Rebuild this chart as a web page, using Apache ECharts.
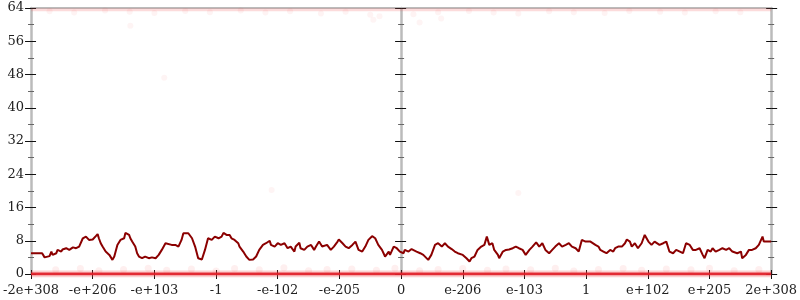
<!DOCTYPE html>
<html><head><meta charset="utf-8">
<script src="https://cdn.jsdelivr.net/npm/echarts@6/dist/echarts.min.js"></script>
<style>html,body{margin:0;padding:0;background:#fff}#c{width:800px;height:300px}</style>
</head><body><div id="c"></div>
<script>
// ---- data ----
const xTickValues = [-6,-5,-4,-3,-2,-1,0,1,2,3,4,5,6];
const xTickLabels = ['-2e+308','-e+206','-e+103','-1','-e-102','-e-205','0','e-206','e-103','1','e+102','e+205','2e+308'];
const yMin = 0, yMax = 64, yStep = 8;
const lineX = [
-6.00,-5.82,-5.78,-5.75,-5.70,-5.67,-5.65,-5.59,-5.57,-5.51,-5.49,-5.43,-5.38,-5.32,-5.27,-5.22,-5.16,-5.11,-5.06,-5.00,
-4.95,-4.92,-4.90,-4.87,-4.84,-4.79,-4.73,-4.68,-4.65,-4.60,-4.55,-4.49,-4.47,-4.41,-4.39,-4.36,-4.31,-4.28,-4.25,-4.20,
-4.15,-4.09,-4.04,-3.98,-3.93,-3.88,-3.82,-3.80,-3.72,-3.66,-3.61,-3.56,-3.53,-3.45,-3.39,-3.34,-3.29,-3.23,
-3.18,-3.13,-3.07,-3.02,-2.96,-2.91,-2.88,-2.83,-2.78,-2.75,-2.70,-2.64,-2.62,-2.56,-2.51,-2.46,-2.43,-2.40,-2.35,-2.30,
-2.24,-2.19,-2.13,-2.11,-2.05,-2.00,-1.95,-1.89,-1.84,-1.79,-1.73,-1.71,-1.65,-1.63,-1.57,-1.52,-1.46,-1.41,-1.38,-1.33,
-1.28,-1.25,-1.20,-1.14,-1.09,-1.03,-1.01,-0.95,-0.90,-0.85,-0.79,-0.74,-0.69,-0.63,-0.58,-0.53,-0.47,-0.42,-0.37,-0.31,
-0.26,-0.20,-0.18,-0.12,-0.10,-0.07,-0.02,
0.04,0.06,0.12,0.17,0.20,0.25,0.31,0.36,0.44,0.49,0.55,0.60,0.66,0.71,0.76,0.82,0.87,0.92,0.95,1.00,
1.06,1.11,1.14,1.19,1.24,1.30,1.35,1.39,1.43,1.48,1.51,1.57,1.59,1.65,1.70,1.75,1.81,1.86,1.91,1.97,
2.02,2.08,2.13,2.19,2.24,2.29,2.34,2.40,2.45,2.50,2.56,2.61,2.67,2.72,2.77,2.83,2.88,2.93,2.99,3.07,3.15,3.20,
3.23,3.28,3.33,3.39,3.44,3.47,3.52,3.58,3.63,3.66,3.71,3.74,3.79,3.84,3.90,3.95,3.98,4.01,4.06,4.11,
4.14,4.19,4.25,4.30,4.35,4.41,4.46,4.52,4.57,4.62,4.68,4.73,4.78,4.84,4.89,4.92,4.97,5.02,5.05,5.10,
5.16,5.21,5.27,5.32,5.37,5.45,5.51,5.53,5.59,5.64,5.69,5.75,5.80,5.86,5.88,5.94,6.00];
const lineY = [
5.0,5.0,4.0,4.3,4.3,5.4,4.6,5.0,5.8,5.4,5.9,6.2,5.8,6.4,6.2,6.6,8.6,9.0,8.2,8.3,
9.1,9.6,8.6,7.4,6.6,5.4,4.6,3.4,4.2,7.0,8.2,8.6,9.9,9.4,8.6,7.8,6.6,5.0,4.2,3.8,
4.2,3.8,4.0,3.8,4.6,5.8,7.4,7.8,7.0,7.0,6.6,8.2,9.8,9.8,8.6,6.6,3.8,3.5,
5.8,8.6,8.2,9.0,8.6,9.0,9.9,9.4,9.4,8.6,8.2,7.4,6.6,5.4,4.2,3.4,3.0,3.5,4.2,5.8,
7.0,7.4,8.0,7.0,6.6,7.4,7.0,7.4,6.2,6.6,5.4,6.6,7.5,6.2,5.8,6.6,7.0,5.8,6.6,7.8,
6.6,6.2,7.0,5.8,6.6,7.8,8.3,7.4,6.6,6.2,7.0,7.8,5.8,5.4,6.6,8.2,9.1,8.6,7.0,5.8,
4.2,5.4,4.6,6.6,7.0,6.2,5.4,
5.0,5.8,5.4,6.0,6.2,5.4,5.0,4.6,3.4,4.6,7.0,7.4,6.6,7.4,6.6,6.0,5.4,5.0,5.4,4.6,
3.8,3.0,3.8,4.2,5.8,6.6,7.0,9.0,7.0,7.4,5.8,4.6,3.8,5.4,5.8,5.9,6.2,6.6,6.2,5.8,
4.6,5.8,6.6,7.6,6.6,7.4,5.8,5.0,5.8,6.6,7.4,6.6,7.0,7.4,6.6,6.2,5.4,8.2,7.8,7.8,7.0,6.6,
5.8,5.4,5.0,5.8,5.4,6.2,6.6,6.6,7.4,8.3,7.8,6.6,7.4,6.2,7.4,9.4,8.6,7.8,7.0,7.8,
7.4,7.0,7.4,7.8,5.4,5.0,5.8,5.4,5.0,7.4,7.0,5.8,5.8,6.2,4.6,3.8,5.8,5.4,6.2,5.4,
5.8,6.2,5.8,6.2,5.4,5.0,5.4,3.8,4.6,5.8,5.8,6.2,7.0,9.0,7.8,7.8,7.8];
const bandX = [-6, 6];
const bottomBand = [0, 0];
const topBand = [63.6, 63.6];
const bottomDotsX = [-5.6,-5.2,-4.9,-4.5,-4.1,-3.8,-3.4,-3.0,-2.7,-2.3,-1.9,-1.5,-1.2,-0.8,-0.4,-0.1,0.3,0.6,1.0,1.4,1.7,2.1,2.5,2.8,3.2,3.6,3.9,4.3,4.7,5.0,5.4,5.8];
const bottomDotsY = [1.0,1.3,0.8,1.1,1.4,0.9,1.2,0.7,1.3,1.0,1.5,0.8,1.1,1.2,0.9,1.4,0.8,1.1,1.3,0.9,1.2,1.0,1.4,0.7,1.1,1.3,0.9,1.2,1.0,1.4,0.8,1.1];
const topDotsX = [-5.7,-5.3,-4.8,-4.4,-4.0,-3.5,-3.1,-2.6,-2.2,-1.8,-1.3,-0.9,-0.5,0.2,0.6,1.1,1.5,1.9,2.4,2.8,3.3,3.7,4.2,4.6,5.1,5.5];
const topDotsY = [63.2,62.9,63.4,63.1,62.8,63.3,63.0,63.4,62.9,63.2,62.7,63.1,62.4,62.5,63.0,63.3,62.9,62.7,63.2,63.0,62.8,63.3,63.1,62.9,63.2,63.0];
const strayX = [-4.39,-3.84,-2.1,-0.45,-0.35,0.3,0.65,1.9];
const strayY = [59.7,47.2,20.2,61.2,62.0,60.5,61.5,19.5];

// ---- build ----
const pairs = (xs, ys) => xs.map((x, i) => [x, ys[i]]);
const FONT = "'DejaVu Serif', 'Liberation Serif', serif";
function yAx(opt) {
  return Object.assign({
    type: 'value', min: yMin, max: yMax, interval: yStep, position: 'left',
    axisLine: { show: false, onZero: false },
    axisTick: { show: true, length: 6, lineStyle: { color: '#111', width: 1 } },
    minorTick: { show: true, splitNumber: 2, length: 3, lineStyle: { color: '#666', width: 1 } },
    axisLabel: { show: false },
    splitLine: { show: false }
  }, opt);
}
const chart = echarts.init(document.getElementById('c'), null, { renderer: 'canvas' });
chart.setOption({
  animation: false,
  backgroundColor: '#fff',
  grid: { left: 28, right: 26, top: 8, bottom: 26 },
  xAxis: [
    { type: 'value', min: -6, max: 6, interval: 1, position: 'bottom',
      axisLine: { show: true, onZero: false, lineStyle: { color: '#bbb', width: 2 } },
      axisTick: { show: true, length: 5, lineStyle: { color: '#111' } },
      axisLabel: { show: true, margin: 10, fontFamily: FONT, fontSize: 13, color: '#222',
        formatter: v => { const k = xTickValues.indexOf(Math.round(v)); return k >= 0 ? xTickLabels[k] : ''; } },
      splitLine: { show: false } },
    { type: 'value', min: -6, max: 6, interval: 1, position: 'bottom',
      axisLine: { show: false, onZero: false },
      axisTick: { show: true, inside: true, length: 4, lineStyle: { color: '#111' } },
      axisLabel: { show: false }, splitLine: { show: false } },
    { type: 'value', min: -6, max: 6, interval: 1, position: 'top',
      axisLine: { show: true, onZero: false, lineStyle: { color: '#bbb', width: 2 } },
      axisTick: { show: false }, axisLabel: { show: false }, splitLine: { show: false } }
  ],
  yAxis: [
    yAx({ position: 'left', axisLine: { show: true, onZero: false, lineStyle: { color: '#bbb', width: 2.5 } },
      axisLabel: { show: true, margin: 7, fontFamily: FONT, fontSize: 13, color: '#222' } }),
    yAx({ position: 'left', axisTick: { show: true, inside: true, length: 5, lineStyle: { color: '#111' } } }),
    yAx({ position: 'right', axisLine: { show: true, onZero: false, lineStyle: { color: '#bbb', width: 2.5 } } }),
    yAx({ position: 'right', axisTick: { show: true, inside: true, length: 5, lineStyle: { color: '#111' } } }),
    yAx({ position: 'left', axisLine: { show: true, onZero: true, onZeroAxisIndex: 0, lineStyle: { color: '#bbb', width: 2.5 } } }),
    yAx({ position: 'left', axisLine: { show: false, onZero: true, onZeroAxisIndex: 0 },
      axisTick: { show: true, inside: true, length: 5, lineStyle: { color: '#111' } } })
  ],
  series: [
    { type: 'line', data: pairs(bandX, topBand), symbol: 'none', silent: true,
      lineStyle: { color: 'rgba(240,90,90,0.22)', width: 3 }, z: 1 },
    { type: 'scatter', data: pairs(topDotsX, topDotsY), symbolSize: 6, silent: true,
      itemStyle: { color: 'rgba(240,60,60,0.08)' }, z: 1 },
    { type: 'scatter', data: pairs(strayX, strayY), symbolSize: 6, silent: true,
      itemStyle: { color: 'rgba(240,60,60,0.07)' }, z: 1 },
    { type: 'scatter', data: pairs(bottomDotsX, bottomDotsY), symbolSize: 7, silent: true,
      itemStyle: { color: 'rgba(240,60,60,0.10)' }, z: 1 },
    { type: 'line', data: pairs(bandX, bottomBand), symbol: 'none', silent: true,
      lineStyle: { color: 'rgba(240,70,70,0.25)', width: 7 }, z: 1 },
    { type: 'line', data: pairs(bandX, bottomBand), symbol: 'none', silent: true,
      lineStyle: { color: 'rgba(228,30,40,0.9)', width: 3 }, z: 1 },
    { type: 'line', data: pairs(lineX, lineY), symbol: 'none', silent: true,
      lineStyle: { color: '#8b0000', width: 2 }, z: 3 }
  ]
});
</script></body></html>
